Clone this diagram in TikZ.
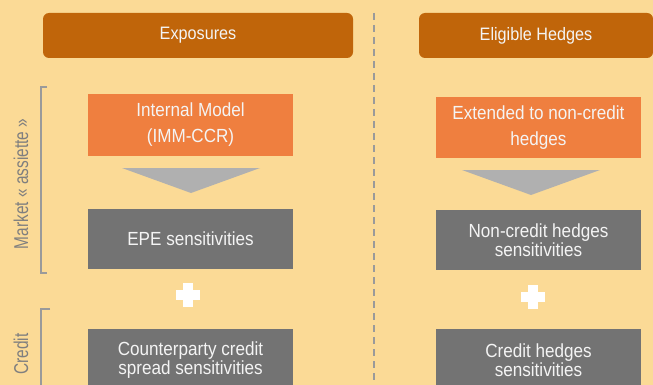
\documentclass[tikz,border=0pt]{standalone}
\usepackage{fontspec}
\setmainfont{Liberation Sans}[FakeStretch=0.9]
\newfontfamily\labelfont{Liberation Sans}[FakeStretch=0.77]
\begin{document}
\definecolor{bgsand}{HTML}{FBDA96}
\definecolor{headbrown}{HTML}{C0650A}
\definecolor{boxorange}{HTML}{EF7F3F}
\definecolor{boxgray}{HTML}{737373}
\definecolor{arrowgray}{HTML}{B0B0B0}
\definecolor{linegray}{HTML}{9A9A9A}
\definecolor{labelgray}{HTML}{7F7F7F}
\definecolor{textwhite}{HTML}{F4F4F4}
\begin{tikzpicture}[x=1pt,y=-1pt,
  header/.style={fill=headbrown, rounded corners=6pt, minimum width=310pt, minimum height=45pt,
    inner sep=0pt, text=textwhite, font=\fontsize{18}{20}\selectfont},
  orangebox/.style={fill=boxorange, minimum width=205pt, minimum height=61pt, inner sep=0pt,
    text=textwhite, align=center, font=\fontsize{19}{26}\selectfont},
  graybox/.style={fill=boxgray, minimum width=205pt, minimum height=60pt, inner sep=0pt,
    text=textwhite, align=center, font=\fontsize{19}{19}\selectfont},
  sidelabel/.style={rotate=90, text=labelgray, font=\labelfont\fontsize{20}{22}\selectfont},
  bracket/.style={draw=linegray, line width=1.6pt},
  downarrow/.style={fill=arrowgray},
  plussign/.style={fill=white}]
  \useasboundingbox (0,0) rectangle (653,385);
  \fill[bgsand] (0,0) rectangle (653,385);

  % column separator
  \draw[linegray, line width=1.5pt, dash pattern=on 7pt off 5pt] (374,13) -- (374,385);

  % column headers
  \node[header] (hexp) at (198,35.5) {Exposures};
  \node[header, minimum width=234pt] (hhed) at (536,35.5) {Eligible Hedges};

  % exposures column
  \node[orangebox] (imm) at (190.5,125) {Internal Model\\(IMM-CCR)};
  \node[graybox] (epe) at (190.5,239) {EPE sensitivities};
  \node[graybox, minimum height=62pt] (cps) at (190.5,360) {Counterparty credit\\spread sensitivities};
  \fill[downarrow] (122,168) -- (260,168) -- (191,193) -- cycle;

  % hedges column
  \node[orangebox] (ext) at (538.5,127.5) {Extended to non-credit\\hedges};
  \node[graybox] (nch) at (538.5,240) {Non-credit hedges\\sensitivities};
  \node[graybox, minimum height=62pt] (chs) at (538.5,360) {Credit hedges\\sensitivities};
  \fill[downarrow] (462,170) -- (600,170) -- (531,195) -- cycle;

  % plus signs
  \fill[plussign] (183,283) rectangle (193,307);
  \fill[plussign] (176,290) rectangle (200,300);
  \fill[plussign] (528,285) rectangle (538,309);
  \fill[plussign] (521,292) rectangle (545,302);

  % side brackets and labels
  \draw[bracket] (47,87) -- (41,87) -- (41,273) -- (47,273);
  \draw[bracket] (50,309) -- (41,309) -- (41,385);
  \node[sidelabel] (mkt) at (21,184) {Market « assiette »};
  \node[sidelabel] (crd) at (21,354) {Credit};
\end{tikzpicture}
\end{document}
